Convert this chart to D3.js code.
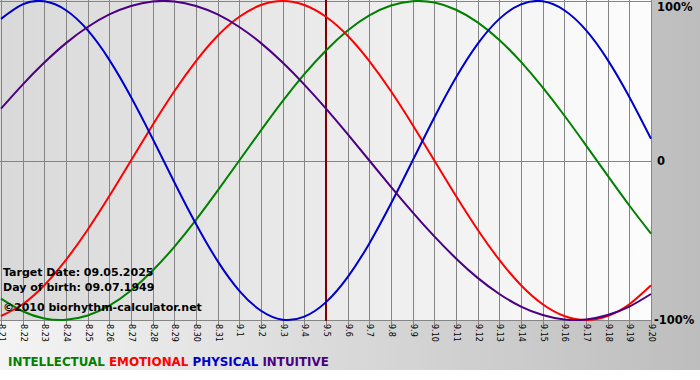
<!DOCTYPE html>
<html>
<head>
<meta charset="utf-8">
<script src="https://cdn.jsdelivr.net/npm/d3@7"></script>
<style>
    body { margin: 0; background: #fff; }
    text { font-family: "DejaVu Sans", Verdana, sans-serif; }
</style>
</head>
<body>
<div id="chart"></div>
<script>
// day labels (month.day)
var days = ["8.21", "8.22", "8.23", "8.24", "8.25", "8.26", "8.27", "8.28", "8.29", "8.30", "8.31",
    "9.1", "9.2", "9.3", "9.4", "9.5", "9.6", "9.7", "9.8", "9.9", "9.10",
    "9.11", "9.12", "9.13", "9.14", "9.15", "9.16", "9.17", "9.18", "9.19", "9.20"];

// percent values, one per day
var intellectual = [-86.6, -94.5, -99.0, -99.9, -97.2, -91.0, -81.5, -69.0, -54.1, -37.2, -18.9,
    0, 18.9, 37.2, 54.1, 69.0, 81.5, 91.0, 97.2, 99.9, 99.0,
    94.5, 86.6, 75.6, 61.8, 45.8, 28.2, 9.5, -9.5, -28.2, -45.8];
var emotional = [-97.5, -90.1, -78.2, -62.3, -43.4, -22.3, 0, 22.3, 43.4, 62.3, 78.2,
    90.1, 97.5, 100, 97.5, 90.1, 78.2, 62.3, 43.4, 22.3, 0,
    -22.3, -43.4, -62.3, -78.2, -90.1, -97.5, -100, -97.5, -90.1, -78.2];
var physical = [88.8, 97.9, 99.8, 94.2, 81.7, 63.1, 39.8, 13.6, -13.6, -39.8, -63.1,
    -81.7, -94.2, -99.8, -97.9, -88.8, -73.1, -52.0, -27.0, 0, 27.0,
    52.0, 73.1, 88.8, 97.9, 99.8, 94.2, 81.7, 63.1, 39.8, 13.6];
var intuitive = [32.5, 47.6, 61.4, 73.6, 83.7, 91.6, 96.9, 99.7, 99.7, 96.9, 91.6,
    83.7, 73.6, 61.4, 47.6, 32.5, 16.5, 0, -16.5, -32.5, -47.6,
    -61.4, -73.6, -83.7, -91.6, -96.9, -99.7, -99.7, -96.9, -91.6, -83.7];

var seriesNames = ["INTELLECTUAL", "EMOTIONAL", "PHYSICAL", "INTUITIVE"];
var seriesColors = ["#008000", "#ff0000", "#0000cc", "#4b0082"];
var yTicks = [100, 0, -100];
var targetDay = "9.5";
var infoLines = ["Target Date: 09.05.2025", "Day of birth: 09.07.1949", "\u00a92010 biorhythm-calculator.net"];

var width = 700,
    height = 380,
    plotW = 651,
    plotH = 321;

var svg = d3.select("#chart").append("svg")
    .attr("width", width)
    .attr("height", height);

var defs = svg.append("defs");
var outerGrad = defs.append("linearGradient").attr("id", "outerGrad");
outerGrad.append("stop").attr("offset", "0%").attr("stop-color", "#f4f4f4");
outerGrad.append("stop").attr("offset", "100%").attr("stop-color", "#bdbdbd");
var plotGrad = defs.append("linearGradient").attr("id", "plotGrad");
plotGrad.append("stop").attr("offset", "0%").attr("stop-color", "#d9d9d9");
plotGrad.append("stop").attr("offset", "100%").attr("stop-color", "#fdfdfd");

svg.append("rect")
    .attr("width", width)
    .attr("height", 370)
    .style("fill", "url(#outerGrad)");

svg.append("rect")
    .attr("width", plotW)
    .attr("height", plotH)
    .style("fill", "url(#plotGrad)");

var x = d3.scalePoint()
    .domain(days)
    .range([1, plotW]);
var y = d3.scaleLinear()
    .domain([-100, 100])
    .range([plotH - 1, 1]);

// vertical grid lines with small ticks below the plot
svg.selectAll(".vgrid")
    .data(days)
    .enter().append("line")
    .attr("class", "vgrid")
    .attr("x1", function(d) { return Math.round(x(d)) + 0.5; })
    .attr("x2", function(d) { return Math.round(x(d)) + 0.5; })
    .attr("y1", 0)
    .attr("y2", plotH + 4)
    .style("stroke", "#858585");

// horizontal lines: top, zero, bottom
svg.selectAll(".hgrid")
    .data(yTicks)
    .enter().append("line")
    .attr("class", "hgrid")
    .attr("x1", 0)
    .attr("x2", plotW + 1)
    .attr("y1", function(d) { return Math.round(y(d)) + 0.5; })
    .attr("y2", function(d) { return Math.round(y(d)) + 0.5; })
    .style("stroke", "#858585");

// target date marker
svg.append("line")
    .attr("x1", x(targetDay))
    .attr("x2", x(targetDay))
    .attr("y1", 0)
    .attr("y2", plotH)
    .style("stroke", "#800000")
    .style("stroke-width", 2);

var line = d3.line()
    .x(function(d, i) { return x(days[i]); })
    .y(function(d) { return y(d); })
    .curve(d3.curveNatural);

var allSeries = [intellectual, emotional, physical, intuitive];
var plot = svg.append("g");
plot.selectAll(".curve")
    .data(allSeries)
    .enter().append("path")
    .attr("class", "curve")
    .attr("d", line)
    .style("fill", "none")
    .style("stroke", function(d, i) { return seriesColors[i]; })
    .style("stroke-width", 2);

// day labels, rotated
svg.selectAll(".dayLabel")
    .data(days)
    .enter().append("text")
    .attr("class", "dayLabel")
    .attr("transform", function(d) {
        return "translate(" + (Math.round(x(d)) + 0.5) + "," + (plotH + 3) + ") rotate(90)";
    })
    .attr("dy", "0.35em")
    .attr("font-size", 8)
    .style("fill", "#000")
    .text(function(d) { return d; });

// right side percent labels
svg.selectAll(".pctLabel")
    .data(yTicks)
    .enter().append("text")
    .attr("class", "pctLabel")
    .attr("x", function(d) { return d < 0 ? plotW + 3 : plotW + 6; })
    .attr("y", function(d) { return y(d) + 4; })
    .attr("dy", function(d) { return d > 0 ? 6 : 0; })
    .attr("font-size", 11.5)
    .attr("font-weight", "bold")
    .style("fill", "#000")
    .text(function(d) { return d === 0 ? "0" : d + "%"; });

// info text lower left
svg.selectAll(".info")
    .data(infoLines)
    .enter().append("text")
    .attr("class", "info")
    .attr("x", 3)
    .attr("y", function(d, i) { return [276, 291, 311][i]; })
    .attr("font-size", 11)
    .attr("font-weight", "bold")
    .style("fill", "#000")
    .text(function(d) { return d; });

// legend
var legend = svg.append("text")
    .attr("x", 8)
    .attr("y", 366)
    .attr("font-size", 11.9)
    .attr("font-weight", "bold");
seriesNames.forEach(function(name, i) {
    legend.append("tspan")
        .style("fill", seriesColors[i])
        .text((i > 0 ? " " : "") + name);
});
</script>
</body>
</html>
